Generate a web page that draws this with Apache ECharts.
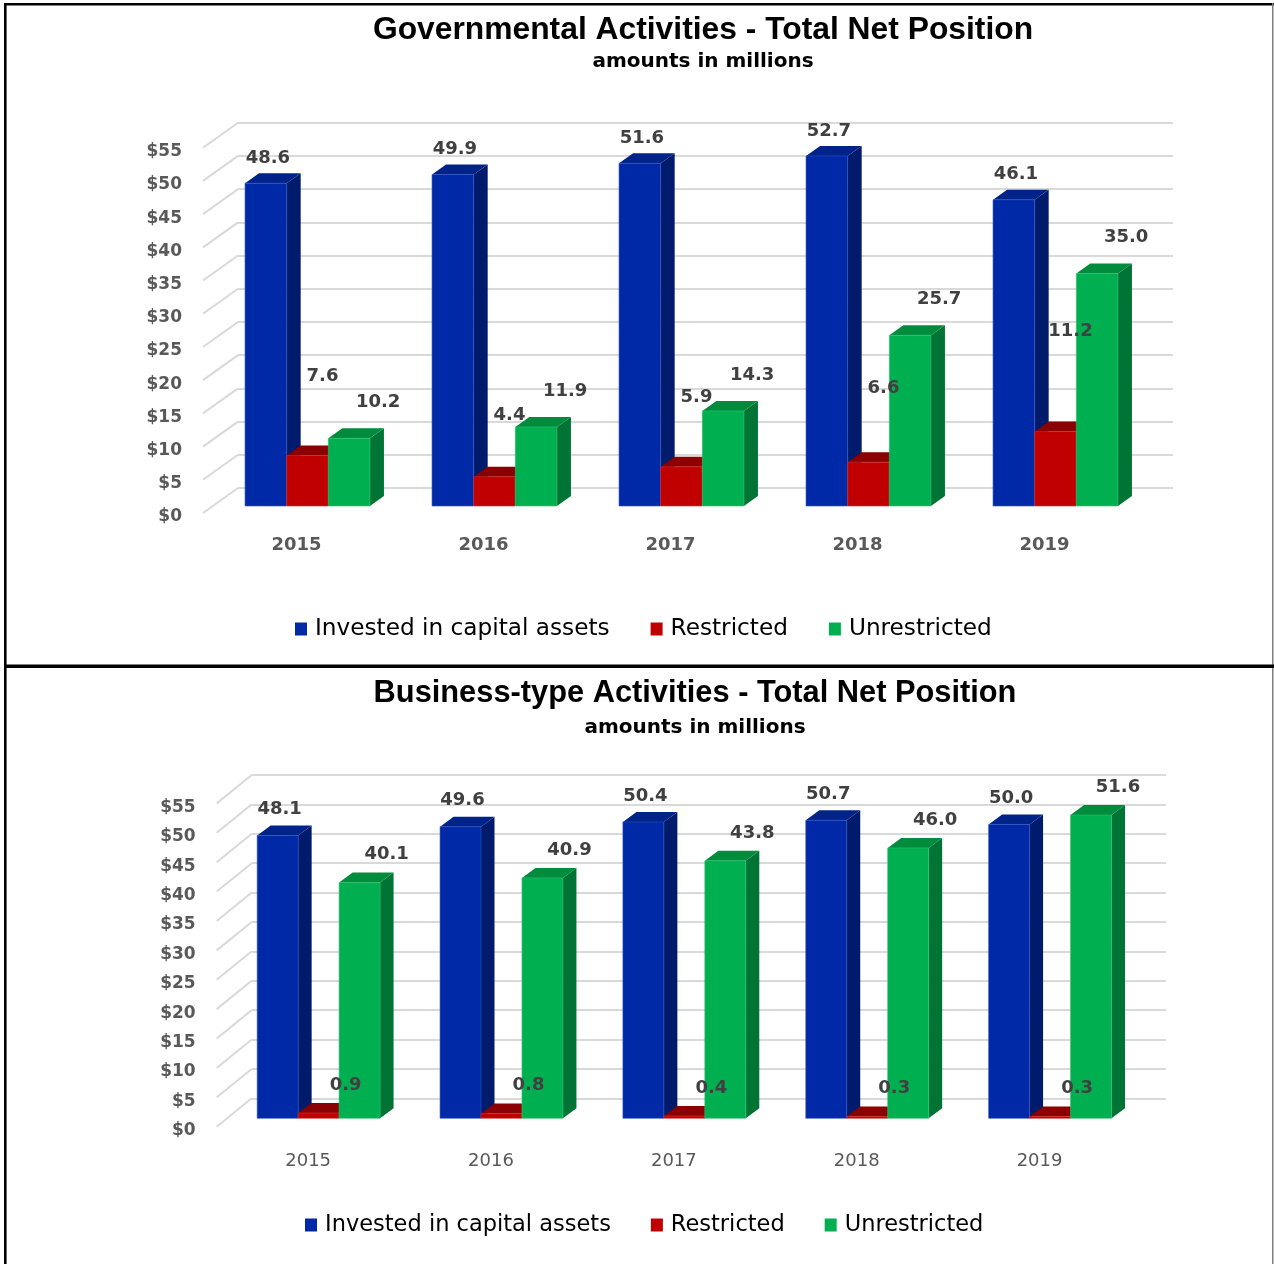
<!DOCTYPE html>
<html><head><meta charset="utf-8">
<script src="https://cdn.jsdelivr.net/npm/echarts@6/dist/echarts.min.js"></script>
<style>html,body{margin:0;padding:0;background:#fff}#c{width:1274px;height:1264px}</style>
</head><body><div id="c"></div>
<script>
// ---- data ----
const years = ['2015', '2016', '2017', '2018', '2019'];
const seriesNames = ['Invested in capital assets', 'Restricted', 'Unrestricted'];
const govInvested = [48.6, 49.9, 51.6, 52.7, 46.1];
const govRestricted = [7.6, 4.4, 5.9, 6.6, 11.2];
const govUnrestricted = [10.2, 11.9, 14.3, 25.7, 35.0];
const busInvested = [48.1, 49.6, 50.4, 50.7, 50.0];
const busRestricted = [0.9, 0.8, 0.4, 0.3, 0.3];
const busUnrestricted = [40.1, 40.9, 43.8, 46.0, 51.6];
const yTicks = [0, 5, 10, 15, 20, 25, 30, 35, 40, 45, 50, 55];
const yMin = 0, yMax = 55, yStep = 5;

// ---- styles ----
const FONT = "'DejaVu Sans', 'Liberation Sans', sans-serif";
const TFONT = "'Liberation Sans', Arial, sans-serif";
const faces = [
  { front: '#0029A8', side: '#001B6B', top: '#00238A', edge: '#3050C0' },
  { front: '#C00000', side: '#7A0000', top: '#8B0000', edge: '#D03030' },
  { front: '#00B050', side: '#007434', top: '#008C3C', edge: '#30C070' }
];

const charts = [
  {
    title: 'Governmental Activities - Total Net Position', sub: 'amounts in millions',
    titleX: 703, titleY: 30, subY: 62, titleSize: 31.8,
    data: [govInvested, govRestricted, govUnrestricted],
    back: { left: 238, top: 122.7, width: 935, height: 365.3 },
    floor: [-35, 25], labShift: 4, barOff: [-24, 18], depth: [14, -10], groupRatio: 0.668,
    labelOff: [[2, -25], [15, -36], [29, -36]], labelGrow: [0, -5.7, 0],
    yearBold: 'bold', yearSize: 18, yLabelSize: 17, yearMargin: 19,
    legendLeft: 295, legendTop: 617, legendSize: 23.2, legendGap: 41
  },
  {
    title: 'Business-type Activities - Total Net Position', sub: 'amounts in millions',
    titleX: 695, titleY: 694, subY: 728, titleSize: 30.8,
    data: [busInvested, busRestricted, busUnrestricted],
    back: { left: 251.7, top: 775, width: 914.3, height: 323.3 },
    floor: [-35, 28.4], labShift: 4, barOff: [-24.5, 20], depth: [13.5, -10], groupRatio: 0.672,
    labelOff: [[2, -26], [27, -28], [27, -28]], labelGrow: [0, 0, 0],
    yearBold: 'normal', yearSize: 18, yLabelSize: 17, yearMargin: 22,
    legendLeft: 305, legendTop: 1213, legendSize: 22.5, legendGap: 40
  }
];

const grid = [], xAxis = [], yAxis = [], series = [], legend = [], graphic = [];

charts.forEach((c, ci) => {
  const gBack = grid.length;
  grid.push({ left: c.back.left, top: c.back.top, width: c.back.width, height: c.back.height, containLabel: false });
  grid.push({ left: c.back.left + c.floor[0], top: c.back.top + c.floor[1] + c.labShift, width: c.back.width, height: c.back.height, containLabel: false });
  // back wall axes
  xAxis.push({ gridIndex: gBack, type: 'category', data: years, axisLine: { show: false }, axisTick: { show: false }, axisLabel: { show: false } });
  yAxis.push({ gridIndex: gBack, type: 'value', min: yMin, max: yMax, interval: yStep,
    axisLine: { show: false }, axisTick: { show: false }, axisLabel: { show: false },
    splitLine: { show: true, lineStyle: { color: '#D9D9D9', width: 2 } } });
  // front floor axes (labels)
  xAxis.push({ gridIndex: gBack + 1, type: 'category', data: years, axisLine: { show: false }, axisTick: { show: false },
    axisLabel: { show: true, color: '#595959', fontFamily: FONT, fontSize: c.yearSize, fontWeight: c.yearBold, margin: c.yearMargin } });
  yAxis.push({ gridIndex: gBack + 1, type: 'value', min: yMin, max: yMax, interval: yStep,
    axisLine: { show: false }, axisTick: { show: false }, splitLine: { show: false },
    axisLabel: { show: true, color: '#595959', fontFamily: FONT, fontSize: c.yLabelSize, fontWeight: 'bold', margin: 21,
      formatter: v => '$' + v } });

  // diagonal side-wall lines
  series.push({
    type: 'custom', xAxisIndex: gBack, yAxisIndex: gBack, silent: true, z: 1,
    data: yTicks.map(v => [0, v]),
    renderItem: (params, api) => {
      const y = api.coord([0, api.value(1)])[1];
      const x = params.coordSys.x;
      return { type: 'line', shape: { x1: x, y1: y, x2: x + c.floor[0], y2: y + c.floor[1] },
        style: { stroke: '#D9D9D9', lineWidth: 2 } };
    }
  });

  // 3D bars
  c.data.forEach((vals, k) => {
    const f = faces[k];
    const geom = (api) => {
      const idx = api.value(0), v = api.value(1);
      const p = api.coord([idx, v]);
      const b = api.coord([idx, 0]);
      const band = api.size([1, 0])[0];
      const gw = band * c.groupRatio, bw = gw / 3;
      const left = p[0] - gw / 2 + k * bw + c.barOff[0];
      return { left, right: left + bw, top: p[1] + c.barOff[1], bottom: b[1] + c.barOff[1], v };
    };
    series.push({
      name: seriesNames[k], type: 'custom', xAxisIndex: gBack, yAxisIndex: gBack, z: 2,
      itemStyle: { color: f.front },
      data: vals.map((v, i) => [i, v]),
      renderItem: (params, api) => {
        const g = geom(api);
        const [dx, dy] = c.depth;
        return { type: 'group', children: [
          { type: 'polygon', shape: { points: [[g.right, g.top], [g.right + dx, g.top + dy], [g.right + dx, g.bottom + dy], [g.right, g.bottom]] },
            style: { fill: f.side } },
          { type: 'polygon', shape: { points: [[g.left, g.top], [g.left + dx, g.top + dy], [g.right + dx, g.top + dy], [g.right, g.top]] },
            style: { fill: f.top } },
          { type: 'rect', shape: { x: g.left, y: g.top, width: g.right - g.left, height: g.bottom - g.top },
            style: { fill: f.front, stroke: f.edge, lineWidth: 0.6 } }
        ] };
      }
    });
    // value labels (drawn above all bars)
    series.push({
      type: 'custom', xAxisIndex: gBack, yAxisIndex: gBack, z: 5, silent: true,
      data: vals.map((v, i) => [i, v]),
      renderItem: (params, api) => {
        const g = geom(api);
        const o = c.labelOff[k];
        return { type: 'text', x: (g.left + g.right) / 2 + o[0], y: g.top + o[1] + c.labelGrow[k] * g.v,
          style: { text: g.v.toFixed(1), fill: '#404040', font: 'bold 18px ' + FONT, align: 'center', verticalAlign: 'middle' } };
      }
    });
  });

  legend.push({
    data: seriesNames.map(n => ({ name: n, icon: 'rect' })),
    left: c.legendLeft, top: c.legendTop, padding: 0, itemWidth: 12, itemHeight: 13, itemGap: c.legendGap,
    selectedMode: false,
    textStyle: { fontFamily: FONT, fontSize: c.legendSize, color: '#000', padding: [0, 0, 0, 3], lineHeight: 24 }
  });

  graphic.push({ type: 'text', x: c.titleX, y: c.titleY,
    style: { text: c.title, font: 'bold ' + c.titleSize + 'px ' + TFONT, fill: '#000', align: 'center', verticalAlign: 'middle' } });
  graphic.push({ type: 'text', x: c.titleX, y: c.subY,
    style: { text: c.sub, font: 'bold 20px ' + FONT, fill: '#000', align: 'center', verticalAlign: 'middle' } });
});

// frame lines
graphic.push({ type: 'rect', shape: { x: 4, y: 3, width: 1270, height: 2.6 }, style: { fill: '#000' } });
graphic.push({ type: 'rect', shape: { x: 4, y: 3, width: 2.6, height: 1261 }, style: { fill: '#000' } });
graphic.push({ type: 'rect', shape: { x: 1272, y: 3, width: 1.5, height: 1261 }, style: { fill: '#7F7F7F' } });
graphic.push({ type: 'rect', shape: { x: 4, y: 664.5, width: 1270, height: 3.5 }, style: { fill: '#000' } });

const chart = echarts.init(document.getElementById('c'), null, { renderer: 'canvas' });
chart.setOption({ animation: false, backgroundColor: '#fff', grid, xAxis, yAxis, series, legend, graphic });
</script>
</body></html>
